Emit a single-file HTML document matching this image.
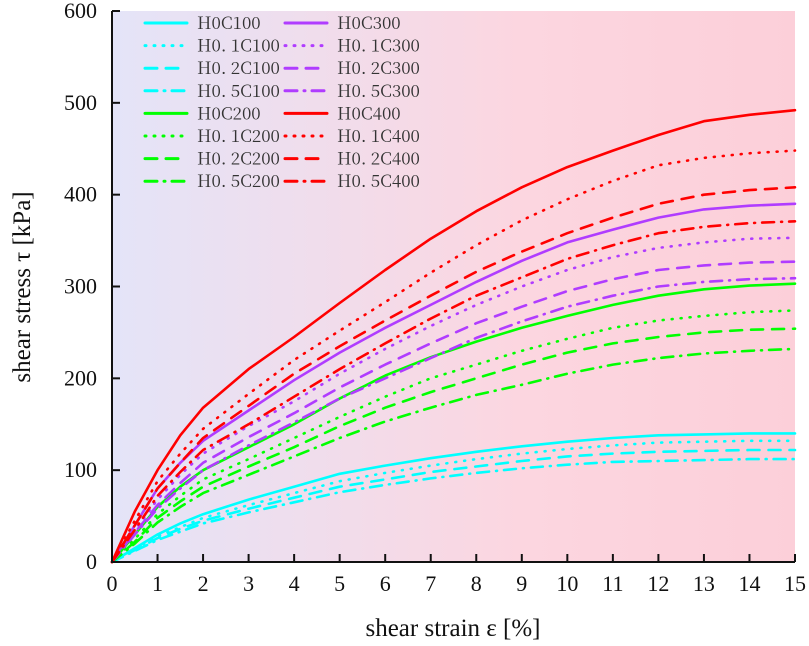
<!DOCTYPE html>
<html><head><meta charset="utf-8">
<style>
body{margin:0;background:#fff;}
svg{display:block;}
text{font-family:"Liberation Serif","Noto Serif CJK SC",serif;fill:#111;}
.leg{font-family:"Noto Serif CJK SC","Liberation Serif",serif;font-size:17px;fill:#333;}
</style></head>
<body>
<svg id="chart" width="809" height="646" viewBox="0 0 809 646" xmlns="http://www.w3.org/2000/svg">
<defs>
<linearGradient id="bg" x1="0" x2="1" y1="0" y2="0">
<stop offset="0" stop-color="#e4e4f8"/><stop offset="0.6" stop-color="#fcd6e0"/><stop offset="1" stop-color="#fccfd9"/>
</linearGradient>
</defs>
<rect x="112" y="11" width="683" height="551" fill="url(#bg)"/>
<g id="series"></g>
<g id="axes"></g>
<g id="legend"></g>
<text x="453" y="636" text-anchor="middle" font-size="25">shear strain ε [%]</text>
<text transform="translate(30,287) rotate(-90)" text-anchor="middle" font-size="25">shear stress τ [kPa]</text>
</svg>
<script>
const strain=[0,0.5,1,1.5,2,3,4,5,6,7,8,9,10,11,12,13,14,15];
const xTicks=[0,1,2,3,4,5,6,7,8,9,10,11,12,13,14,15];
const yTicks=[0,100,200,300,400,500,600];
const seriesNames=["H0C100","H0. 1C100","H0. 2C100","H0. 5C100","H0C200","H0. 1C200","H0. 2C200","H0. 5C200","H0C300","H0. 1C300","H0. 2C300","H0. 5C300","H0C400","H0. 1C400","H0. 2C400","H0. 5C400"];
const h0c100=[0,15,30,42,52,68,82,96,105,113,120,126,131,135,138,139,140,140];
const h01c100=[0,14,28,38,48,62,75,88,97,105,112,118,123,127,130,131,132,132];
const h02c100=[0,13,26,36,45,58,70,82,90,98,104,110,115,118,120,121,122,122];
const h05c100=[0,12,24,33,42,54,65,76,84,91,97,102,106,109,110,111,112,112];
const h0c200=[0,30,60,82,100,125,150,178,203,223,240,255,268,280,290,297,301,303];
const h01c200=[0,25,52,72,90,112,135,158,180,200,215,230,243,255,263,268,272,274];
const h02c200=[0,22,48,66,82,104,125,148,168,185,200,215,228,238,245,250,253,254];
const h05c200=[0,20,43,60,75,95,115,135,153,168,182,193,205,215,222,227,230,232];
const h0c300=[0,40,80,108,132,165,198,228,255,280,305,328,348,362,375,384,388,390];
const h01c300=[0,35,68,95,118,148,175,205,232,257,280,300,318,332,342,348,352,353];
const h02c300=[0,32,62,86,108,136,162,190,215,238,260,278,295,308,318,323,326,327];
const h05c300=[0,30,58,80,100,127,152,178,200,222,244,262,278,290,300,305,308,309];
const h0c400=[0,55,100,138,168,210,245,282,318,352,382,408,430,448,465,480,487,492];
const h01c400=[0,45,88,118,145,183,220,252,283,315,345,372,395,415,432,440,445,448];
const h02c400=[0,40,80,108,135,170,205,235,263,290,316,338,358,375,390,400,405,408];
const h05c400=[0,35,72,98,122,150,180,210,238,265,290,310,330,345,358,365,369,371];
const seriesValues=[h0c100,h01c100,h02c100,h05c100,h0c200,h01c200,h02c200,h05c200,h0c300,h01c300,h02c300,h05c300,h0c400,h01c400,h02c400,h05c400];

const X0=112,X1=795,Y0=562,Y1=11;
function xs(v){return X0+(v-0)/(15-0)*(X1-X0);}
function ys(v){return Y0-(v-0)/(600-0)*(Y0-Y1);}
const colors=["#00ffff","#00ff00","#b03cff","#ff0000"];
const dashes=[null,"1,8","12,9","12,7,1,7"];
const NS="http://www.w3.org/2000/svg";
const gS=document.getElementById("series"),gA=document.getElementById("axes"),gL=document.getElementById("legend");
function mk(tag,attrs,parent){const e=document.createElementNS(NS,tag);for(const k in attrs)e.setAttribute(k,attrs[k]);parent.appendChild(e);return e;}

seriesValues.forEach((vals,i)=>{
  const c=colors[Math.floor(i/4)],d=dashes[i%4];
  const pts=vals.map((v,j)=>xs(strain[j]).toFixed(1)+","+ys(v).toFixed(1)).join(" ");
  const p=mk("polyline",{points:pts,fill:"none",stroke:c,"stroke-width":2.6,"stroke-linecap":"round","stroke-linejoin":"round"},gS);
  if(d)p.setAttribute("stroke-dasharray",d);
  
  
});

const ax=mk("path",{d:`M${X0} ${Y1}V${Y0}H${X1}`,fill:"none",stroke:"#111","stroke-width":2},gA);


xTicks.forEach(t=>{
  const x=xs(t);
  const tk=mk("line",{x1:x,x2:x,y1:Y0,y2:Y0-8,stroke:"#111","stroke-width":2},gA);
  
  
  const tx=mk("text",{x:x,y:591,"text-anchor":"middle","font-size":22},gA);
  tx.textContent=t;
  
  
});
yTicks.forEach(t=>{
  const y=ys(t);
  const tk=mk("line",{x1:X0,x2:X0+8,y1:y,y2:y,stroke:"#111","stroke-width":2},gA);
  
  
  const tx=mk("text",{x:97,y:y+7,"text-anchor":"end","font-size":22},gA);
  tx.textContent=t;
  
  
});

seriesNames.forEach((n,i)=>{
  const col=Math.floor(i/8),row=i%8;
  const lx=col?285:145,y=23+row*22.6;
  const c=colors[Math.floor(i/4)],d=dashes[i%4];
  const g=mk("g",{},gL);
  
  
  const l=mk("line",{x1:lx,x2:lx+42,y1:y,y2:y,stroke:c,"stroke-width":3,"stroke-linecap":"round"},g);
  if(d)l.setAttribute("stroke-dasharray",d);
  const t=mk("text",{x:lx+52,y:y+6,class:"leg"},g);
  t.textContent=n;
});
</script>
</body></html>
